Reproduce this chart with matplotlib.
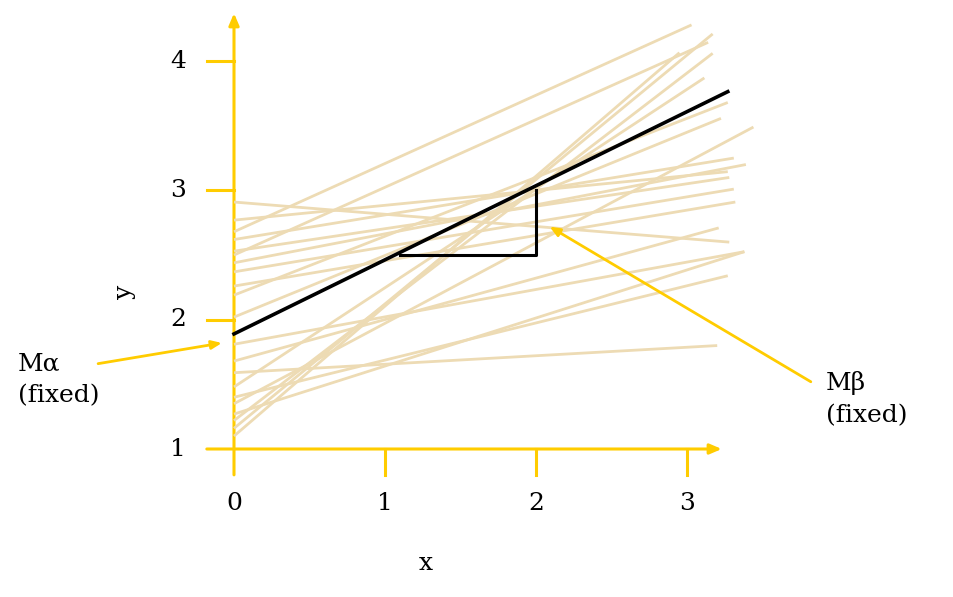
import matplotlib
matplotlib.use("Agg")
import matplotlib.pyplot as plt
import numpy as np

plt.rcParams['font.family'] = ['DejaVu Serif']

# sampled lines: value at x=0, and where each one ends
line_start = [2.91, 2.77, 2.68, 2.62, 2.53, 2.50, 2.44, 2.37, 2.26, 2.19, 2.02,
              1.81, 1.68, 1.59, 1.48, 1.40, 1.35, 1.27, 1.22, 1.16, 1.10]
line_end_x = [3.28, 3.27, 3.03, 3.31, 3.28, 3.14, 3.39, 3.31, 3.32, 3.27, 3.225,
              3.38, 3.21, 3.20, 3.115, 3.27, 3.44, 3.38, 3.17, 3.17, 2.95]
line_end_y = [2.60, 3.145, 4.28, 3.25, 3.10, 4.145, 3.20, 3.01, 2.91, 3.68, 3.557,
              2.526, 2.71, 1.80, 3.87, 2.34, 3.49, 2.526, 4.06, 4.21, 4.065]

# fixed line
alpha = 1.89
beta = 0.573
x_max = 3.27

# slope triangle
tri_x = [1.1, 2.0, 2.0]
tri_y = [2.5, 2.5, 3.0]

x_ticks = [1, 2, 3]
y_ticks = [2, 3, 4]

yellow = '#FFCC00'
tan = '#EDDBB4'
fs = 18

fig = plt.figure(figsize=(9.54, 5.97), dpi=100)
ax = fig.add_axes([0, 0, 1, 1])
ax.set_xlim(-234 / 151, (954 - 234) / 151)
ax.set_ylim(1 - 148 / 129.3, 1 + 449 / 129.3)
ax.axis('off')

for a, xe, ye in zip(line_start, line_end_x, line_end_y):
    ax.plot([0, xe], [a, ye], color=tan, lw=2, solid_capstyle='butt', zorder=2)

xs = np.array([0, x_max])
ax.plot(xs, alpha + beta * xs, color='black', lw=2.6, zorder=3)
ax.plot(tri_x, tri_y, color='black', lw=2.2, zorder=3)

# hand drawn axes
arrow = dict(arrowstyle='-|>,head_length=0.7,head_width=0.3', color=yellow,
             lw=2.2, shrinkA=0, shrinkB=0)
ax.annotate('', xy=(3.23, 1), xytext=(-0.18, 1), arrowprops=arrow, zorder=1)
ax.annotate('', xy=(0, 4.37), xytext=(0, 0.8), arrowprops=arrow, zorder=1)
for t in x_ticks:
    ax.plot([t, t], [1, 0.8], color=yellow, lw=2.2, zorder=1)
    ax.text(t, 0.58, str(t), ha='center', va='center', fontsize=fs)
ax.text(0, 0.58, '0', ha='center', va='center', fontsize=fs)
for t in y_ticks:
    ax.plot([-0.18, 0], [t, t], color=yellow, lw=2.2, zorder=1)
    ax.text(-0.37, t, str(t), ha='center', va='center', fontsize=fs)
ax.text(-0.37, 1, '1', ha='center', va='center', fontsize=fs)

ax.text((426 - 234) / 151, 1 - (563 - 449) / 129.3, 'x', ha='center', va='center',
        fontsize=fs)
ax.text((124 - 234) / 151, 1 + (449 - 292) / 129.3, 'y', ha='center', va='center',
        fontsize=fs, rotation=90)

# labels for the fixed parameters
ann = dict(arrowstyle='-|>,head_length=0.6,head_width=0.25', color=yellow, lw=2,
           shrinkA=0, shrinkB=0)
ax.annotate('', xy=(-0.08, 1.82), xytext=(-0.90, 1.66), arrowprops=ann)
ax.text(-1.43, 1.75, 'M\u03b1\n(fixed)', ha='left', va='top', fontsize=fs,
        linespacing=1.5)
ax.annotate('', xy=(2.09, 2.72), xytext=(3.82, 1.52), arrowprops=ann)
ax.text(3.92, 1.60, 'M\u03b2\n(fixed)', ha='left', va='top', fontsize=fs,
        linespacing=1.5)

fig.savefig('out.png', dpi=100)
